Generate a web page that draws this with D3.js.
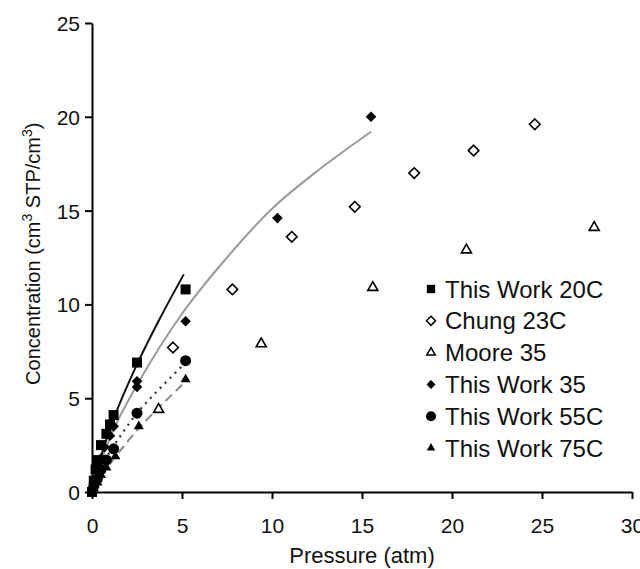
<!DOCTYPE html>
<html>
<head>
<meta charset="utf-8">
<script src="https://cdn.jsdelivr.net/npm/d3@7"></script>
<style>
  body { margin: 0; background: #fff; }
  text { font-family: "Liberation Sans", Arial, sans-serif; fill: #111; }
</style>
</head>
<body>
<svg id="chart"></svg>
<script>
// Series data (pressure atm, concentration cm3 STP/cm3)
const work20 = [[0,0],[0.1,0.6],[0.2,1.2],[0.3,1.7],[0.5,2.5],[0.8,3.1],[1.0,3.6],[1.2,4.1],[2.5,6.9],[5.2,10.8]];
const chung23 = [[4.5,7.7],[7.8,10.8],[11.1,13.6],[14.6,15.2],[17.9,17.0],[21.2,18.2],[24.6,19.6]];
const moore35 = [[3.7,4.4],[9.4,7.9],[15.6,10.9],[20.8,12.9],[27.9,14.1]];
const work35 = [[0.1,0.5],[0.3,1.2],[0.5,1.8],[0.7,2.4],[1.0,3.0],[1.2,3.5],[2.5,5.6],[2.5,5.9],[5.2,9.1],[10.3,14.6],[15.5,20.0]];
const work55 = [[0.1,0.3],[0.3,0.7],[0.5,1.2],[0.8,1.7],[1.2,2.3],[2.5,4.2],[5.2,7.0]];
const work75 = [[0.1,0.2],[0.3,0.5],[0.5,0.9],[0.8,1.3],[1.3,1.9],[2.6,3.5],[5.2,6.0]];

// Fitted curves
const fit20 = [[0,0],[0.5,1.9],[1.2,3.9],[2.5,6.8],[3.8,9.3],[5.1,11.6]];
const fit35 = [[0,0],[1.0,2.9],[2.5,5.7],[5.0,9.5],[7.5,12.5],[10,15.1],[12.5,17.1],[15.5,19.2]];
const fit55 = [[0.9,2.0],[2.5,4.2],[5.1,6.8]];
const fit75 = [[1.0,1.5],[2.6,3.4],[5.1,5.8]];

const xTicks = [0,5,10,15,20,25,30];
const yTicks = [0,5,10,15,20,25];
const legendNames = ["This Work 20C","Chung 23C","Moore 35","This Work 35","This Work 55C","This Work 75C"];

const W = 640, H = 569;
const margin = { top: 23, right: 8, bottom: 77, left: 92 };
const width = W - margin.left - margin.right;
const height = H - margin.top - margin.bottom;

const svg = d3.select("#chart").attr("width", W).attr("height", H);
const g = svg.append("g").attr("transform", `translate(${margin.left},${margin.top})`);

const x = d3.scaleLinear().domain([0, 30]).range([0, width]);
const y = d3.scaleLinear().domain([0, 25]).range([height, 0]);

// axes
const xAxis = g.append("g").attr("transform", `translate(0,${height})`)
    .call(d3.axisBottom(x).tickValues(xTicks).tickSize(7).tickSizeOuter(0));
const yAxis = g.append("g")
    .call(d3.axisLeft(y).tickValues(yTicks).tickSize(7).tickSizeOuter(0));
[xAxis, yAxis].forEach(a => {
    a.select(".domain").attr("stroke", "#000").attr("stroke-width", 2);
    a.selectAll(".tick line").attr("stroke", "#000").attr("stroke-width", 2);
    a.selectAll("text").style("font-size", "21px").attr("fill", "#111");
});
xAxis.selectAll("text").attr("y", 41).attr("dy", 0);
yAxis.selectAll("text").attr("x", -12).attr("dy", "0.36em");

// axis titles
svg.append("text")
    .attr("x", margin.left + x(15)).attr("y", 563)
    .attr("text-anchor", "middle").style("font-size", "22px")
    .text("Pressure (atm)");

const yt = svg.append("text")
    .attr("transform", `translate(40,${margin.top + y(12.7)}) rotate(-90)`)
    .attr("text-anchor", "middle").style("font-size", "20px");
yt.append("tspan").text("Concentration (cm");
yt.append("tspan").attr("dy", -8).style("font-size", "14px").text("3");
yt.append("tspan").attr("dy", 8).text(" STP/cm");
yt.append("tspan").attr("dy", -8).style("font-size", "14px").text("3");
yt.append("tspan").attr("dy", 8).text(")");

// fit lines
const line = d3.line().x(d => x(d[0])).y(d => y(d[1])).curve(d3.curveCatmullRom);
g.append("path").datum(fit35).attr("d", line).attr("fill", "none").attr("stroke", "#9a9a9a").attr("stroke-width", 2);
g.append("path").datum(fit20).attr("d", line).attr("fill", "none").attr("stroke", "#111").attr("stroke-width", 2);
g.append("path").datum(fit55).attr("d", line).attr("fill", "none").attr("stroke", "#333").attr("stroke-width", 2.2).attr("stroke-dasharray", "2,5");
g.append("path").datum(fit75).attr("d", line).attr("fill", "none").attr("stroke", "#8a8a8a").attr("stroke-width", 2).attr("stroke-dasharray", "9,5");

// markers
const sym = {
    square: d3.symbol().type(d3.symbolSquare).size(100),
    diamond: d3.symbol().type(d3.symbolDiamond2).size(72),
    triangle: d3.symbol().type(d3.symbolTriangle2).size(72),
    circle: d3.symbol().type(d3.symbolCircle).size(95)
};
const legendSym = {
    square: d3.symbol().type(d3.symbolSquare).size(70),
    diamond: d3.symbol().type(d3.symbolDiamond2).size(52),
    triangle: d3.symbol().type(d3.symbolTriangle2).size(52),
    circle: d3.symbol().type(d3.symbolCircle).size(80)
};
const series = [
    { data: chung23, shape: "diamond", filled: false },
    { data: moore35, shape: "triangle", filled: false },
    { data: work75, shape: "triangle", filled: true },
    { data: work55, shape: "circle", filled: true },
    { data: work35, shape: "diamond", filled: true },
    { data: work20, shape: "square", filled: true }
];
series.forEach(s => {
    g.selectAll(null).data(s.data).enter().append("path")
        .attr("d", sym[s.shape])
        .attr("transform", d => `translate(${x(d[0])},${y(d[1])})`)
        .attr("fill", s.filled ? "#000" : "#fff")
        .attr("stroke", "#000").attr("stroke-width", s.filled ? 0 : 1.6);
});

// legend
const legendShapes = [
    { shape: "square", filled: true }, { shape: "diamond", filled: false },
    { shape: "triangle", filled: false }, { shape: "diamond", filled: true },
    { shape: "circle", filled: true }, { shape: "triangle", filled: true }
];
const lg = svg.append("g").attr("transform", "translate(431,289)");
legendNames.forEach((name, i) => {
    const row = lg.append("g").attr("transform", `translate(0,${i * 31.8})`);
    row.append("path").attr("d", legendSym[legendShapes[i].shape])
        .attr("fill", legendShapes[i].filled ? "#000" : "#fff")
        .attr("stroke", "#000").attr("stroke-width", legendShapes[i].filled ? 0 : 1.5);
    row.append("text").attr("x", 14).attr("dy", "0.36em").style("font-size", "24px").text(name);
});
</script>
</body>
</html>
